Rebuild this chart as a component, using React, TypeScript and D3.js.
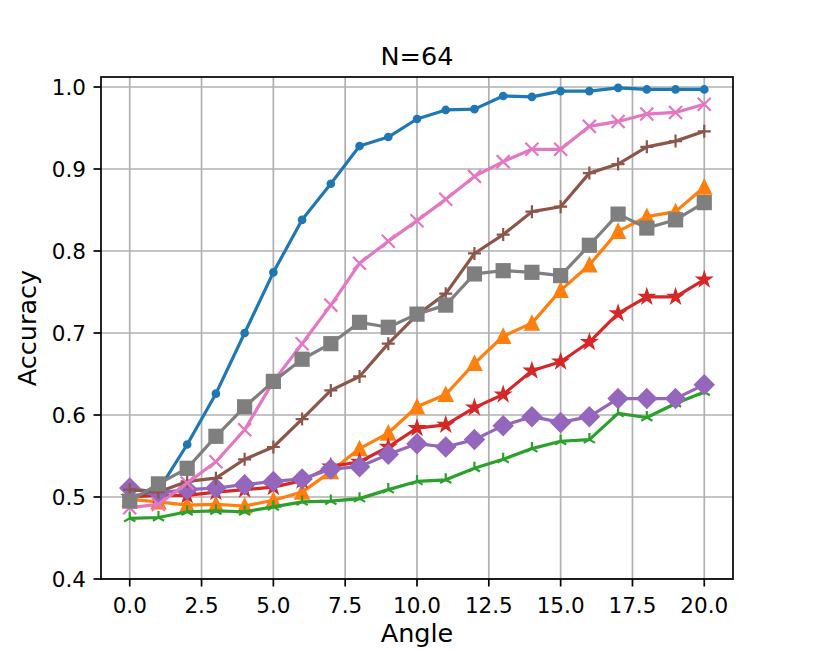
import * as d3 from "d3";

const angles = d3.range(0, 21);

const blueAcc = [0.5, 0.508, 0.564, 0.626, 0.7, 0.774, 0.838, 0.882, 0.928, 0.939, 0.961, 0.972, 0.973, 0.989, 0.988, 0.995, 0.995, 0.999, 0.997, 0.997, 0.997];
const orangeAcc = [0.497, 0.494, 0.49, 0.491, 0.489, 0.496, 0.506, 0.531, 0.559, 0.578, 0.61, 0.625, 0.663, 0.696, 0.712, 0.752, 0.783, 0.824, 0.842, 0.848, 0.878];
const greenAcc = [0.474, 0.475, 0.482, 0.483, 0.482, 0.488, 0.494, 0.495, 0.498, 0.509, 0.519, 0.521, 0.535, 0.546, 0.559, 0.568, 0.57, 0.602, 0.597, 0.614, 0.628];
const redAcc = [0.5, 0.502, 0.502, 0.506, 0.509, 0.512, 0.52, 0.537, 0.543, 0.561, 0.584, 0.588, 0.609, 0.625, 0.654, 0.665, 0.689, 0.724, 0.744, 0.744, 0.765];
const purpleAcc = [0.511, 0.505, 0.509, 0.511, 0.515, 0.519, 0.522, 0.534, 0.537, 0.552, 0.565, 0.561, 0.57, 0.587, 0.598, 0.591, 0.598, 0.62, 0.62, 0.62, 0.637];
const brownAcc = [0.509, 0.506, 0.519, 0.523, 0.546, 0.561, 0.595, 0.63, 0.647, 0.687, 0.722, 0.748, 0.797, 0.82, 0.848, 0.854, 0.895, 0.906, 0.927, 0.934, 0.946];
const pinkAcc = [0.487, 0.491, 0.517, 0.543, 0.582, 0.641, 0.687, 0.734, 0.785, 0.812, 0.837, 0.863, 0.891, 0.909, 0.924, 0.924, 0.952, 0.958, 0.967, 0.969, 0.979];
const grayAcc = [0.495, 0.516, 0.535, 0.574, 0.61, 0.641, 0.668, 0.687, 0.713, 0.707, 0.723, 0.734, 0.772, 0.776, 0.774, 0.77, 0.807, 0.845, 0.828, 0.838, 0.859];

const xTicks = [0, 2.5, 5, 7.5, 10, 12.5, 15, 17.5, 20];
const yTicks = [0.4, 0.5, 0.6, 0.7, 0.8, 0.9, 1.0];

const series = [
  { values: blueAcc, color: "#1f77b4", marker: "point" },
  { values: orangeAcc, color: "#ff7f0e", marker: "triangle" },
  { values: greenAcc, color: "#2ca02c", marker: "tri" },
  { values: redAcc, color: "#d62728", marker: "star" },
  { values: purpleAcc, color: "#9467bd", marker: "diamond" },
  { values: brownAcc, color: "#8c564b", marker: "plus" },
  { values: pinkAcc, color: "#e377c2", marker: "x" },
  { values: grayAcc, color: "#7f7f7f", marker: "square" },
];

const W = 814;
const H = 651;
const left = 101;
const right = 733;
const top = 77;
const bottom = 579;
const M = 13; // marker size px
const EW = 2.2; // marker edge width
const font = "DejaVu Sans, sans-serif";
const tickFont = 21.5;
const labelFont = 25.5;

function starPath(x: number, y: number, r: number) {
  const pts: string[] = [];
  for (let i = 0; i < 10; i++) {
    const rr = i % 2 === 0 ? r : r * 0.382;
    const a = (i * Math.PI) / 5 - Math.PI / 2;
    pts.push(`${x + rr * Math.cos(a)},${y + rr * Math.sin(a)}`);
  }
  return "M" + pts.join("L") + "Z";
}

function Marker({ kind, x, y, color }: { kind: string; x: number; y: number; color: string }) {
  const h = M / 2;
  switch (kind) {
    case "point":
      return <circle cx={x} cy={y} r={3.25} fill={color} stroke={color} strokeWidth={EW} />;
    case "square":
      return <rect x={x - h} y={y - h} width={M} height={M} fill={color} stroke={color} strokeWidth={EW} />;
    case "diamond": {
      const r = M * 0.707;
      return (
        <path
          d={`M${x},${y - r}L${x + r},${y}L${x},${y + r}L${x - r},${y}Z`}
          fill={color}
          stroke={color}
          strokeWidth={EW}
        />
      );
    }
    case "triangle":
      return (
        <path
          d={`M${x},${y - h}L${x + h},${y + h}L${x - h},${y + h}Z`}
          fill={color}
          stroke={color}
          strokeWidth={EW}
        />
      );
    case "star":
      return <path d={starPath(x, y, h)} fill={color} stroke={color} strokeWidth={EW} strokeLinejoin="miter" />;
    case "plus":
      return (
        <path d={`M${x - h},${y}H${x + h}M${x},${y - h}V${y + h}`} stroke={color} strokeWidth={EW} fill="none" />
      );
    case "x":
      return (
        <path
          d={`M${x - h},${y - h}L${x + h},${y + h}M${x - h},${y + h}L${x + h},${y - h}`}
          stroke={color}
          strokeWidth={EW}
          fill="none"
        />
      );
    case "tri": {
      const a = h * 0.866;
      const b = h * 0.5;
      return (
        <path
          d={`M${x},${y}V${y - h}M${x},${y}L${x - a},${y + b}M${x},${y}L${x + a},${y + b}`}
          stroke={color}
          strokeWidth={EW}
          fill="none"
        />
      );
    }
    default:
      return null;
  }
}

export default function App() {
  const x = d3.scaleLinear().domain([-1, 21]).range([left, right]);
  const y = d3.scaleLinear().domain([0.4, 1.0122]).range([bottom, top]);
  const line = d3
    .line<number>()
    .x((_, i) => x(angles[i]))
    .y((d) => y(d));

  return (
    <svg
      width={W}
      height={H}
      style={{ position: "absolute", left: 0, top: 0, background: "#fff" }}
      fontFamily={font}
    >
      <rect x={0} y={0} width={W} height={H} fill="#fff" />
      {/* grid */}
      {xTicks.map((t) => (
        <line key={"gx" + t} x1={x(t)} x2={x(t)} y1={top} y2={bottom} stroke="#b0b0b0" strokeWidth={1.7} />
      ))}
      {yTicks.map((t) => (
        <line key={"gy" + t} x1={left} x2={right} y1={y(t)} y2={y(t)} stroke="#b0b0b0" strokeWidth={1.7} />
      ))}

      {series.map((s, si) => (
        <g key={si}>
          <path d={line(s.values) || ""} fill="none" stroke={s.color} strokeWidth={3.2} strokeLinejoin="round" />
          {s.values.map((v, i) => (
            <Marker key={i} kind={s.marker} x={x(angles[i])} y={y(v)} color={s.color} />
          ))}
        </g>
      ))}

      {/* spines */}
      <rect x={left} y={top} width={right - left} height={bottom - top} fill="none" stroke="#000" strokeWidth={1.7} />

      {/* ticks */}
      {xTicks.map((t) => (
        <g key={"tx" + t}>
          <line x1={x(t)} x2={x(t)} y1={bottom} y2={bottom + 7.5} stroke="#000" strokeWidth={1.7} />
          <text x={x(t)} y={613} textAnchor="middle" fontSize={tickFont}>
            {t.toFixed(1)}
          </text>
        </g>
      ))}
      {yTicks.map((t) => (
        <g key={"ty" + t}>
          <line x1={left - 7.5} x2={left} y1={y(t)} y2={y(t)} stroke="#000" strokeWidth={1.7} />
          <text x={86} y={y(t) + 7.8} textAnchor="end" fontSize={tickFont}>
            {t.toFixed(1)}
          </text>
        </g>
      ))}

      <text x={(left + right) / 2} y={65} textAnchor="middle" fontSize={labelFont}>
        N=64
      </text>
      <text x={(left + right) / 2} y={642} textAnchor="middle" fontSize={labelFont}>
        Angle
      </text>
      <text transform={`translate(35.5,${(top + bottom) / 2}) rotate(-90)`} textAnchor="middle" fontSize={labelFont}>
        Accuracy
      </text>
    </svg>
  );
}
